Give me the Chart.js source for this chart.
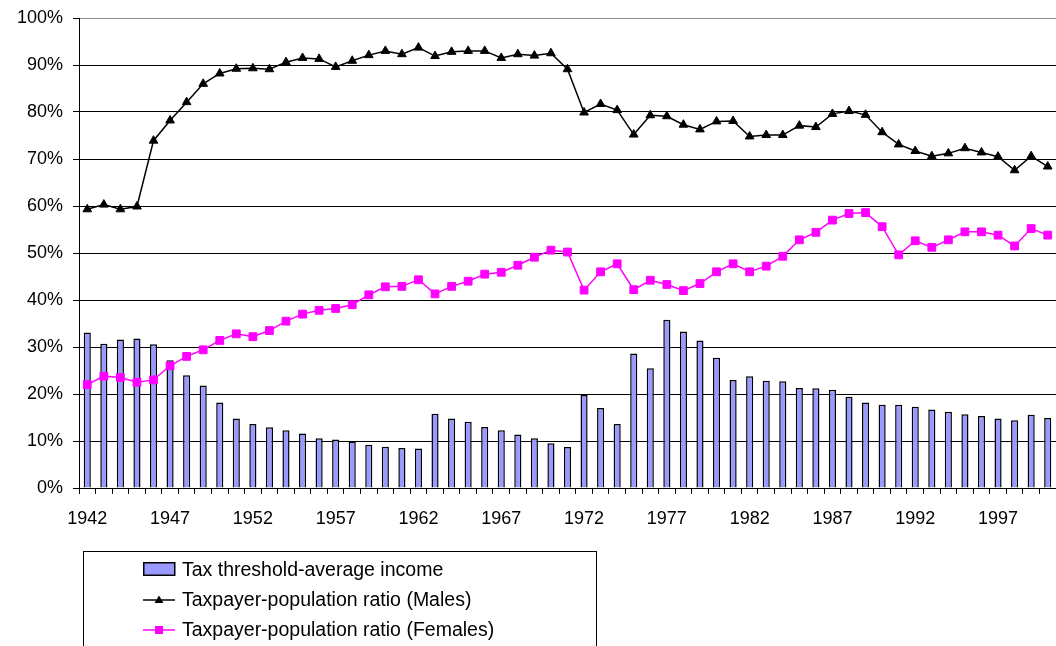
<!DOCTYPE html>
<html>
<head>
<meta charset="utf-8">
<script src="https://cdn.jsdelivr.net/npm/chart.js@4.4.1/dist/chart.umd.min.js"></script>
<style>
  html, body { margin:0; padding:0; background:#fff; overflow:hidden; }
  #wrap { position:relative; width:1056px; height:646px; }
  #chartBox { position:absolute; left:0; top:0; width:1056px; height:646px; }
  #legend { position:absolute; left:83px; top:551px; width:514px; height:120px; border:1px solid #000; box-sizing:border-box; }
  .lt { position:absolute; left:182px; font-family:"Liberation Sans", Arial, sans-serif; font-size:19.5px; line-height:19.5px; color:#000; white-space:nowrap; }
  #legsvg { position:absolute; left:0; top:0; width:1056px; height:646px; pointer-events:none; }
</style>
</head>
<body>
<div id="wrap">
  <div id="chartBox"><canvas id="c"></canvas></div>
  <div id="legend"></div>
  <svg id="legsvg" width="1056" height="646">
    <rect x="143.75" y="562.75" width="31" height="12.5" fill="#9999ff" stroke="#000" stroke-width="1.5"/>
    <line x1="143" y1="600" x2="175" y2="600" stroke="#000" stroke-width="1.5"/>
    <polygon points="159,595.5 163.5,603 154.5,603" fill="#000"/>
    <line x1="143" y1="630" x2="175" y2="630" stroke="#ff00ff" stroke-width="1.5"/>
    <rect x="155" y="626" width="8" height="8" fill="#ff00ff"/>
  </svg>
  <div class="lt" id="l1" style="top:559.5px"></div>
  <div class="lt" id="l2" style="top:590px"></div>
  <div class="lt" id="l3" style="top:620px"></div>
</div>
<script>
const years = ['1942','1943','1944','1945','1946','1947','1948','1949','1950','1951',
  '1952','1953','1954','1955','1956','1957','1958','1959','1960','1961',
  '1962','1963','1964','1965','1966','1967','1968','1969','1970','1971',
  '1972','1973','1974','1975','1976','1977','1978','1979','1980','1981',
  '1982','1983','1984','1985','1986','1987','1988','1989','1990','1991',
  '1992','1993','1994','1995','1996','1997','1998','1999','2000'];

const thresholdIncome = [33.1,30.7,31.6,31.8,30.6,27.2,24.0,21.8,18.2,14.8,
  13.6,12.9,12.3,11.6,10.6,10.3,9.9,9.2,8.8,8.5,
  8.4,15.8,14.8,14.1,13.0,12.3,11.4,10.6,9.5,8.7,
  19.8,17.0,13.6,28.6,25.5,35.8,33.3,31.4,27.7,23.0,
  23.8,22.8,22.7,21.3,21.2,20.9,19.4,18.2,17.7,17.7,
  17.3,16.7,16.2,15.7,15.3,14.8,14.4,15.6,14.9];

const malesRatio = [59.3,60.3,59.3,59.9,73.9,78.2,82.1,86.0,88.2,89.2,
  89.3,89.1,90.6,91.5,91.3,89.6,90.9,92.1,93.0,92.3,
  93.7,91.9,92.8,93.0,93.0,91.5,92.3,92.0,92.5,89.1,
  79.9,81.7,80.4,75.2,79.3,79.1,77.3,76.3,78.0,78.1,
  74.8,75.1,75.1,77.1,76.8,79.6,80.2,79.4,75.7,73.1,
  71.7,70.6,71.2,72.3,71.4,70.5,67.6,70.6,68.4];

const femalesRatio = [22.0,23.8,23.5,22.5,23.0,26.0,28.0,29.4,31.4,32.8,
  32.2,33.5,35.5,37.0,37.8,38.2,39.0,41.1,42.8,42.9,
  44.3,41.3,42.9,44.0,45.5,45.9,47.4,49.1,50.6,50.2,
  42.1,46.0,47.7,42.2,44.2,43.3,42.0,43.5,46.0,47.7,
  46.0,47.2,49.3,52.8,54.4,57.0,58.4,58.6,55.6,49.6,
  52.6,51.2,52.8,54.5,54.5,53.8,51.5,55.2,53.8];

const seriesNames = ['Tax threshold-average income','Taxpayer-population ratio (Males)','Taxpayer-population ratio (Females)'];
const yTickValues = [0,10,20,30,40,50,60,70,80,90,100];

document.getElementById('l1').textContent = seriesNames[0];
document.getElementById('l2').textContent = seriesNames[1];
document.getElementById('l3').textContent = seriesNames[2];

const FONT = '"Liberation Sans", Arial, sans-serif';

new Chart(document.getElementById('c'), {
  type: 'bar',
  data: {
    labels: years,
    datasets: [
      {
        type: 'line', label: seriesNames[1], data: malesRatio,
        borderColor: '#000', backgroundColor: '#000', borderWidth: 1.5,
        pointStyle: 'triangle', pointRadius: 5, pointBackgroundColor: '#000',
        pointBorderColor: '#000', pointBorderWidth: 1, tension: 0, order: 1, clip: false
      },
      {
        type: 'line', label: seriesNames[2], data: femalesRatio,
        borderColor: '#ff00ff', backgroundColor: '#ff00ff', borderWidth: 1.5,
        pointStyle: 'rect', pointRadius: 5.5, pointBackgroundColor: '#ff00ff',
        pointBorderColor: '#ff00ff', pointBorderWidth: 1, tension: 0, order: 1, clip: false
      },
      {
        type: 'bar', label: seriesNames[0], data: thresholdIncome,
        backgroundColor: '#9999ff', borderColor: '#000', borderWidth: 1.5,
        barPercentage: 0.43, categoryPercentage: 1, order: 2
      }
    ]
  },
  options: {
    responsive: true, maintainAspectRatio: false, animation: false,
    layout: { autoPadding: false, padding: { top: 18, right: 0, bottom: 0, left: 0 } },
    plugins: { legend: { display: false }, tooltip: { enabled: false } },
    scales: {
      x: {
        offset: true,
        grid: { offset: true, drawOnChartArea: false, drawTicks: true, tickLength: 6, color: '#000', lineWidth: 1 },
        border: { color: '#000', width: 1 },
        ticks: {
          autoSkip: false, maxRotation: 0, minRotation: 0, padding: 14, color: '#000',
          font: { family: FONT, size: 18 },
          callback: function (v, i) { return (Number(years[i]) - 1942) % 5 === 0 ? years[i] : ''; }
        },
        afterFit: function (s) { s.height = 158; s.paddingLeft = 0; s.paddingRight = 0; }
      },
      y: {
        min: 0, max: 100,
        afterBuildTicks: function (s) { s.ticks = yTickValues.map(v => ({ value: v })); },
        ticks: { callback: v => v + '%', padding: 10, color: '#000', font: { family: FONT, size: 18 } },
        grid: { color: c => (c.tick && c.tick.value === 100) ? '#8c8c8c' : '#000', tickLength: 6, tickColor: '#000', lineWidth: 1 },
        border: { color: '#000', width: 1 },
        afterFit: function (s) { s.width = 79; s.paddingTop = 0; s.paddingBottom = 0; }
      }
    }
  }
});
</script>
</body>
</html>
